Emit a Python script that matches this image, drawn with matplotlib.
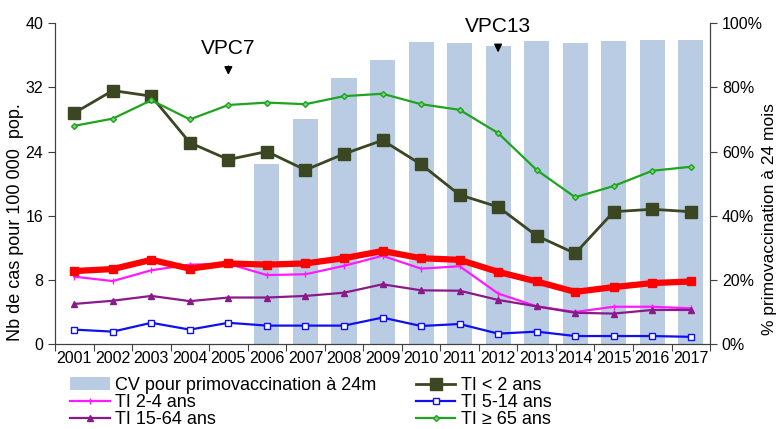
import numpy as np
import matplotlib
matplotlib.use("Agg")
import matplotlib.pyplot as plt
from matplotlib.ticker import FixedLocator, PercentFormatter

plt.rcParams['font.family'] = ['Liberation Sans', 'DejaVu Sans']

years = [str(y) for y in range(2001, 2018)]

# couverture vaccinale (%), pas de donnee avant 2006
cv = [np.nan] * 5 + [56, 70, 82.8, 88.5, 94, 93.7, 93, 94.4, 93.7, 94.4, 94.8, 94.8]

ti_lt2 = [28.8, 31.6, 30.9, 25.1, 23.0, 24.0, 21.7, 23.7, 25.4, 22.4, 18.6, 17.1,
          13.5, 11.3, 16.5, 16.8, 16.5]
ti_2_4 = [8.4, 7.85, 9.2, 9.9, 10.0, 8.6, 8.7, 9.75, 11.0, 9.4, 9.7, 6.3,
          4.7, 4.0, 4.65, 4.65, 4.45]
ti_5_14 = [1.8, 1.55, 2.65, 1.8, 2.65, 2.3, 2.3, 2.3, 3.3, 2.25, 2.5, 1.3,
           1.55, 1.0, 1.0, 1.0, 0.9]
ti_15_64 = [5.0, 5.4, 6.0, 5.35, 5.8, 5.8, 6.0, 6.4, 7.45, 6.7, 6.65, 5.5,
            4.7, 3.9, 3.8, 4.25, 4.25]
ti_ge65 = [27.2, 28.1, 30.4, 28.0, 29.8, 30.1, 29.9, 30.9, 31.2, 29.9, 29.2, 26.3,
           21.7, 18.3, 19.7, 21.6, 22.1]
ti_total = [9.1, 9.35, 10.5, 9.4, 10.05, 9.9, 10.05, 10.7, 11.6, 10.7, 10.5, 9.0,
            7.8, 6.5, 7.1, 7.6, 7.8]

x = np.arange(len(years))

fig = plt.figure(figsize=(7.82, 4.29), dpi=100)
ax = fig.add_axes([0.0703, 0.198, 0.8377, 0.748])
ax2 = ax.twinx()

# barres sur l'axe de droite, derriere les courbes
ax2.bar(x, cv, width=0.65, color='#b9cce4', label='CV pour primovaccination à 24m')
ax.set_zorder(ax2.get_zorder() + 1)
ax.patch.set_visible(False)

l_lt2, = ax.plot(x, ti_lt2, color='#3a4722', lw=2, marker='s', ms=8, label='TI < 2 ans')
l_2_4, = ax.plot(x, ti_2_4, color='#ff1aff', lw=1.6, marker='|', ms=4, mew=1, label='TI 2-4 ans')
l_5_14, = ax.plot(x, ti_5_14, color='#1010ee', lw=1.6, marker='s', ms=4.5, mfc='white',
                  mew=1, label='TI 5-14 ans')
l_15_64, = ax.plot(x, ti_15_64, color='#8a1a8a', lw=1.6, marker='^', ms=5, label='TI 15-64 ans')
l_ge65, = ax.plot(x, ti_ge65, color='#1ea41e', lw=1.6, marker='D', ms=3, mfc='#7fd07f',
                  label='TI ≥ 65 ans')
ax.plot(x, ti_total, color='#ff0000', lw=4.5, marker='s', ms=6)

ax.set_xlim(-0.5, len(years) - 0.5)
ax.set_ylim(0, 40)
ax2.set_ylim(0, 100)

ax.set_yticks([0, 8, 16, 24, 32, 40])
ax2.set_yticks([0, 20, 40, 60, 80, 100])
ax2.yaxis.set_major_formatter(PercentFormatter(decimals=0))

ax.xaxis.set_major_locator(FixedLocator(np.arange(-0.5, len(years), 1.0)))
ax.xaxis.set_major_formatter(plt.NullFormatter())
ax.xaxis.set_minor_locator(FixedLocator(x))
ax.set_xticks(x, years, minor=True)
ax.tick_params(axis='x', which='minor', length=0, labelsize=11.5, pad=5)
ax.tick_params(axis='x', which='major', length=5, color='#404040')
ax.tick_params(axis='y', labelsize=11.5, length=5, color='#404040')
ax2.tick_params(axis='y', labelsize=11.5, length=5, color='#404040')

for a in (ax, ax2):
    a.spines['top'].set_visible(False)
    for s in ('left', 'right', 'bottom'):
        a.spines[s].set_color('#404040')

ax.set_ylabel('Nb de cas pour 100 000  pop.', fontsize=13)
ax.yaxis.set_label_coords(-0.047, 0.38)
ax2.set_ylabel('% primovaccination à 24 mois', fontsize=12.5)
ax2.yaxis.set_label_coords(1.08, 0.39)

# annotations des changements de vaccin
ax.annotate('', xy=(4, 33.2), xytext=(4, 35.0),
            arrowprops=dict(arrowstyle='-|>', color='black', lw=1, mutation_scale=12))
ax.text(4, 36.9, 'VPC7', ha='center', va='center', fontsize=15)
ax.annotate('', xy=(11, 36.0), xytext=(11, 37.7),
            arrowprops=dict(arrowstyle='-|>', color='black', lw=1, mutation_scale=12))
ax.text(11, 39.6, 'VPC13', ha='center', va='center', fontsize=15)

bars = ax2.containers[0]
handles = [bars, l_2_4, l_15_64, l_lt2, l_5_14, l_ge65]
labels = [h.get_label() for h in handles]
fig.legend(handles, labels, ncol=2, loc='upper left', bbox_to_anchor=(0.0895, 0.121),
           frameon=False, fontsize=13, handlelength=2.2, handletextpad=0.28,
           labelspacing=0.0, columnspacing=2.2, borderpad=0, borderaxespad=0)

fig.savefig('out.png', dpi=100)
